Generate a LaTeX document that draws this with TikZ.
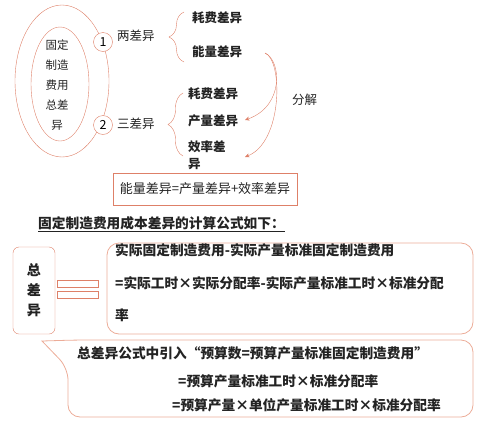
\documentclass[tikz,border=0pt]{standalone}
\usepackage{fontspec}
\setmainfont{Noto Sans CJK SC}
\usetikzlibrary{arrows.meta, decorations.pathreplacing}
\definecolor{linered}{RGB}{222, 128, 104}
\definecolor{boxred}{RGB}{236, 172, 152}
\definecolor{inkgray}{RGB}{35, 35, 35}

\begin{document}
\begin{tikzpicture}[x=1pt, y=-1pt,
  lbl/.style={font=\fontsize{12.5}{17}\selectfont, text=inkgray, inner sep=0pt, anchor=west, align=left},
  lblb/.style={lbl, font=\fontsize{12.5}{17}\selectfont\bfseries},
  formula/.style={font=\fontsize{13.7}{17}\selectfont\bfseries, text=inkgray, inner sep=0pt, anchor=west},
  num/.style={circle, draw=linered, fill=white, minimum size=19pt, inner sep=0pt, font=\fontsize{12.5}{14}\selectfont},
  brc/.style={draw=linered, decorate, decoration={brace, amplitude=15pt}},
  splitarrow/.style={draw=linered, -{Stealth[length=4.5pt, width=4pt]}},
  panel/.style={draw=boxred, rounded corners=12pt, line width=0.8pt}]
  \useasboundingbox (0,0) rectangle (500,426);

  % Ellipses and numbered circles
  \draw[linered] (62,81) ellipse [x radius=47, y radius=76];
  \draw[linered] (60,84) ellipse [x radius=29, y radius=57];
  \node[font=\fontsize{11.5}{20}\selectfont, text=inkgray, align=center] (total) at (57,85) {固定\\制造\\费用\\总差\\异};
  \node[num] (one) at (103,42) {1};
  \node[num] (two) at (103,125) {2};
  \node[lbl] (twoway) at (117,36) {两差异};
  \node[lbl] (threeway) at (117,124) {三差异};

  % Two-way split
  \coordinate (b1s) at (184,62);
  \coordinate (b1e) at (184,12);
  \draw[brc] (b1s) -- (b1e);
  \node[lblb] (hf1) at (192,18) {耗费差异};
  \node[lblb] (nl) at (192,52) {能量差异};

  % Three-way split
  \coordinate (b2s) at (183,156);
  \coordinate (b2e) at (183,93);
  \draw[brc] (b2s) -- (b2e);
  \node[lblb] (hf2) at (188,94) {耗费差异};
  \node[lblb] (cl) at (188,121) {产量差异};
  \node[lblb] (xl) at (188,155) {效率差\\异};

  % Breakdown arrows
  \coordinate (fj0) at (265,53);
  \coordinate (fj1) at (245,120);
  \coordinate (fj2) at (245,157);
  \draw[splitarrow] (fj0) .. controls (281,60) and (285,106) .. (fj1);
  \draw[splitarrow] (fj0) .. controls (283,60) and (283,142) .. (fj2);
  \node[lbl] (fenjie) at (292,100) {分解};

  \node[draw=linered, minimum width=184pt, minimum height=32pt, inner sep=0pt,
        font=\fontsize{13}{16}\selectfont, text=inkgray] (sumbox) at (205,189) {能量差异=产量差异+效率差异};

  % Formula heading
  \node[formula] (title) at (38,224) {\underline{固定制造费用成本差异的计算公式如下：}};

  % Total variance formula
  \node[draw=linered, rounded corners=6pt, minimum width=42pt, minimum height=87pt, inner sep=0pt,
        font=\fontsize{14}{20}\selectfont\bfseries, text=inkgray, align=center] (zc) at (34,290.5) {总\\差\\异};
  \draw[linered] (57,280) rectangle (98,287);
  \draw[linered] (57,291) rectangle (98,298);
  \draw[panel] (107,243) rectangle (473,334);
  \node[formula] (f1) at (115,250) {实际固定制造费用-实际产量标准固定制造费用};
  \node[formula] (f2) at (115,283) {=实际工时×实际分配率-实际产量标准工时×标准分配};
  \node[formula] (f3) at (115,315) {率};

  % Budget callout
  \coordinate (tip) at (42,341);
  \draw[panel] (tip) -- (76,340) -- (473,340) -- (473,417) -- (68,417) -- (68,368) [sharp corners] -- cycle;
  \node[formula] (c1) at (77,353) {总差异公式中引入“预算数=预算产量标准固定制造费用”};
  \node[formula] (c2) at (178,381) {=预算产量标准工时×标准分配率};
  \node[formula] (c3) at (172,405) {=预算产量×单位产量标准工时×标准分配率};
\end{tikzpicture}
\end{document}
